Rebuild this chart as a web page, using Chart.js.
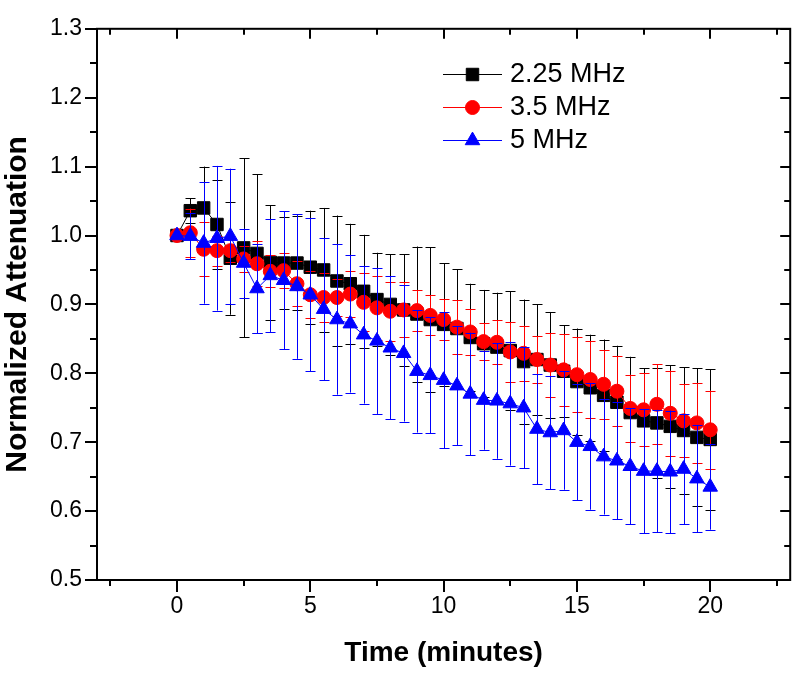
<!DOCTYPE html>
<html>
<head>
<meta charset="utf-8">
<script src="https://cdn.jsdelivr.net/npm/chart.js@4/dist/chart.umd.min.js"></script>
<style>
html,body{margin:0;padding:0;background:#fff;}
#wrap{width:800px;height:674px;}
</style>
</head>
<body>
<div id="wrap"><canvas id="c" width="800" height="674"></canvas></div>
<script>
// ---------------- data ----------------
const TIME = [0,0.5,1,1.5,2,2.5,3,3.5,4,4.5,5,5.5,6,6.5,7,7.5,8,8.5,9,9.5,10,10.5,11,11.5,12,12.5,13,13.5,14,14.5,15,15.5,16,16.5,17,17.5,18,18.5,19,19.5,20];
const SERIES_LABELS = ['2.25 MHz', '3.5 MHz', '5 MHz'];

const Y_225 = [1.000,1.036,1.040,1.016,0.967,0.982,0.974,0.961,0.960,0.960,0.954,0.950,0.934,0.930,0.919,0.907,0.900,0.892,0.886,0.878,0.871,0.865,0.852,0.843,0.838,0.833,0.817,0.820,0.812,0.803,0.788,0.779,0.768,0.758,0.743,0.731,0.728,0.723,0.717,0.707,0.704];
const ERR_225 = [0,0.018,0.060,0.064,0.082,0.130,0.115,0.083,0.067,0.068,0.082,0.090,0.095,0.087,0.082,0.068,0.073,0.081,0.098,0.105,0.089,0.086,0.078,0.078,0.079,0.086,0.090,0.080,0.077,0.067,0.077,0.077,0.081,0.082,0.081,0.076,0.080,0.089,0.092,0.100,0.102];

const Y_35 = [1.000,1.004,0.980,0.978,0.978,0.966,0.959,0.948,0.949,0.930,0.914,0.910,0.910,0.915,0.903,0.895,0.890,0.892,0.891,0.884,0.878,0.867,0.860,0.846,0.845,0.831,0.829,0.820,0.812,0.805,0.798,0.791,0.784,0.774,0.749,0.747,0.755,0.742,0.731,0.728,0.718];
const ERR_35 = [0,0.035,0.039,0.022,0.017,0.019,0.033,0.023,0.025,0.033,0.034,0.036,0.027,0.034,0.042,0.046,0.043,0.040,0.030,0.029,0.030,0.039,0.033,0.027,0.032,0.043,0.040,0.034,0.046,0.052,0.054,0.056,0.050,0.051,0.049,0.053,0.058,0.062,0.053,0.058,0.057];

const Y_5 = [1.000,0.999,0.989,0.996,0.999,0.960,0.923,0.942,0.935,0.926,0.914,0.893,0.878,0.872,0.856,0.847,0.837,0.829,0.803,0.797,0.790,0.782,0.770,0.761,0.760,0.756,0.750,0.719,0.714,0.717,0.700,0.694,0.679,0.673,0.665,0.658,0.658,0.657,0.661,0.647,0.635];
const ERR_5 = [0,0.033,0.088,0.105,0.098,0.050,0.065,0.082,0.100,0.105,0.111,0.103,0.109,0.100,0.100,0.106,0.104,0.099,0.089,0.084,0.099,0.086,0.089,0.072,0.084,0.090,0.088,0.080,0.082,0.086,0.084,0.092,0.084,0.085,0.084,0.090,0.089,0.089,0.080,0.078,0.062];

const X_TICKS = [0,5,10,15,20];
const X_MINOR_TICKS = [-2.5,2.5,7.5,12.5,17.5,22.5];
const Y_TICKS = [0.5,0.6,0.7,0.8,0.9,1.0,1.1,1.2,1.3];
const Y_MINOR_TICKS = [0.55,0.65,0.75,0.85,0.95,1.05,1.15,1.25];

// ---------------- plugins ----------------
const errorBars = {
  id: 'errorBars',
  beforeDatasetDraw(chart, args) {
    const ds = chart.data.datasets[args.index];
    if (!ds.errors) return;
    const ctx = chart.ctx, ys = chart.scales.y;
    ctx.save();
    ctx.strokeStyle = ds.borderColor;
    ctx.lineWidth = 1;
    args.meta.data.forEach((pt, i) => {
      const e = ds.errors[i];
      if (!e) return;
      const v = ds.data[i].y;
      const x = Math.round(pt.x) + 0.5;
      const yTop = ys.getPixelForValue(v + e);
      const yBot = ys.getPixelForValue(v - e);
      ctx.beginPath();
      ctx.moveTo(x, yTop); ctx.lineTo(x, yBot);
      ctx.moveTo(x - 5, Math.round(yTop) + 0.5); ctx.lineTo(x + 5, Math.round(yTop) + 0.5);
      ctx.moveTo(x - 5, Math.round(yBot) + 0.5); ctx.lineTo(x + 5, Math.round(yBot) + 0.5);
      ctx.stroke();
    });
    ctx.restore();
  }
};

const frameTicks = {
  id: 'frameTicks',
  afterDraw(chart) {
    const {ctx, chartArea: a, scales: {x, y}} = chart;
    ctx.save();
    ctx.strokeStyle = '#000';
    ctx.lineWidth = 2;
    ctx.strokeRect(a.left, a.top, a.right - a.left, a.bottom - a.top);
    const seg = (x1, y1, x2, y2) => { ctx.beginPath(); ctx.moveTo(x1, y1); ctx.lineTo(x2, y2); ctx.stroke(); };
    X_TICKS.forEach(v => { const p = Math.round(x.getPixelForValue(v)); seg(p, a.bottom, p, a.bottom + 12); seg(p, a.top, p, a.top + 10); });
    X_MINOR_TICKS.forEach(v => { const p = Math.round(x.getPixelForValue(v)); seg(p, a.bottom, p, a.bottom + 6); seg(p, a.top, p, a.top + 6); });
    Y_TICKS.forEach(v => { const p = Math.round(y.getPixelForValue(v)); seg(a.left, p, a.left - 12, p); seg(a.right, p, a.right - 10, p); });
    Y_MINOR_TICKS.forEach(v => { const p = Math.round(y.getPixelForValue(v)); seg(a.left, p, a.left - 7, p); seg(a.right, p, a.right - 6, p); });
    ctx.restore();
  }
};

function markerAt(ctx, ds, x, y) {
  const opts = {pointStyle: ds.pointStyle, radius: ds.pointRadius, rotation: 0, borderWidth: ds.pointBorderWidth};
  ctx.fillStyle = ds.backgroundColor;
  ctx.strokeStyle = ds.borderColor;
  ctx.lineWidth = ds.pointBorderWidth;
  if (Chart.helpers && Chart.helpers.drawPoint) {
    Chart.helpers.drawPoint(ctx, opts, x, y);
  } else {
    ctx.beginPath(); ctx.arc(x, y, ds.pointRadius, 0, Math.PI * 2); ctx.fill();
  }
}

const insideLegend = {
  id: 'insideLegend',
  afterDraw(chart) {
    const ctx = chart.ctx;
    ctx.save();
    chart.data.datasets.forEach((ds, i) => {
      const yy = 74 + i * 33;
      ctx.strokeStyle = ds.borderColor;
      ctx.lineWidth = 1;
      ctx.beginPath(); ctx.moveTo(443, yy + 0.5); ctx.lineTo(502, yy + 0.5); ctx.stroke();
      markerAt(ctx, ds, 472.5, yy + 0.5);
      ctx.fillStyle = '#000';
      ctx.font = '27px "Liberation Sans", Arial, sans-serif';
      ctx.textAlign = 'left';
      ctx.textBaseline = 'middle';
      ctx.fillText(ds.label, 510, yy + 1);
    });
    ctx.restore();
  }
};

// ---------------- chart ----------------
const mk = (arr) => TIME.map((t, i) => ({x: t, y: arr[i]}));

new Chart(document.getElementById('c'), {
  type: 'line',
  data: {
    datasets: [
      {label: SERIES_LABELS[0], data: mk(Y_225), errors: ERR_225, borderColor: '#000000', backgroundColor: '#000000',
       pointStyle: 'rect', pointRadius: 8.8, pointBorderWidth: 1, borderWidth: 1, order: 3},
      {label: SERIES_LABELS[1], data: mk(Y_35), errors: ERR_35, borderColor: '#ff0000', backgroundColor: '#ff0000',
       pointStyle: 'circle', pointRadius: 7, pointBorderWidth: 1, borderWidth: 1, order: 2},
      {label: SERIES_LABELS[2], data: mk(Y_5), errors: ERR_5, borderColor: '#0000ff', backgroundColor: '#0000ff',
       pointStyle: 'triangle', pointRadius: 8.4, pointBorderWidth: 1, borderWidth: 1, order: 1}
    ]
  },
  options: {
    responsive: false,
    devicePixelRatio: 1,
    animation: false,
    events: [],
    layout: {padding: {top: 16, right: 9, bottom: 0, left: 0}},
    elements: {line: {tension: 0}, point: {hoverRadius: 0}},
    plugins: {legend: {display: false}, tooltip: {enabled: false}},
    scales: {
      x: {
        type: 'linear', min: -3, max: 23,
        afterBuildTicks: s => { s.ticks = X_TICKS.map(v => ({value: v})); },
        afterFit: s => { s.height = 94; },
        grid: {display: false, drawTicks: false},
        border: {display: false},
        ticks: {padding: 13, color: '#000', font: {family: '"Liberation Sans", Arial, sans-serif', size: 23}, callback: v => String(v), maxRotation: 0, autoSkip: false},
        title: {display: true, text: 'Time (minutes)', color: '#000', padding: {top: 0, bottom: 4},
                font: {family: '"Liberation Sans", Arial, sans-serif', size: 28, weight: 'bold'}}
      },
      y: {
        type: 'linear', min: 0.5, max: 1.3,
        afterBuildTicks: s => { s.ticks = Y_TICKS.map(v => ({value: v})); },
        afterFit: s => { s.width = 97; },
        grid: {display: false, drawTicks: false},
        border: {display: false},
        ticks: {padding: 15, color: '#000', font: {family: '"Liberation Sans", Arial, sans-serif', size: 23}, callback: v => Number(v).toFixed(1), autoSkip: false},
        title: {display: true, text: 'Normalized Attenuation', color: '#000', padding: {top: 0, bottom: 0},
                font: {family: '"Liberation Sans", Arial, sans-serif', size: 30, weight: 'bold'}}
      }
    }
  },
  plugins: [errorBars, frameTicks, insideLegend]
});
</script>
</body>
</html>
